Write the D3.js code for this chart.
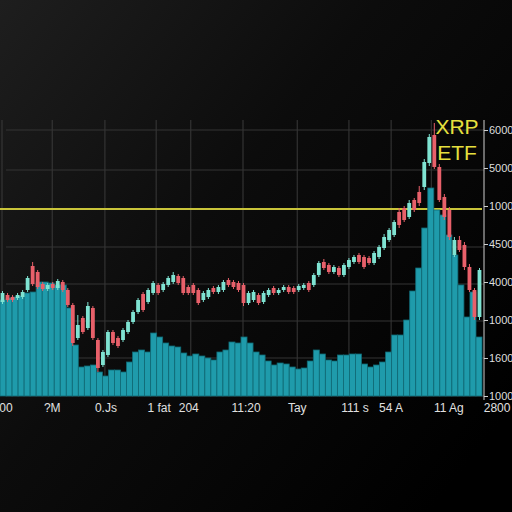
<!DOCTYPE html>
<html lang='en'>
<head>
<meta charset='utf-8'>
<title>XRP ETF</title>
<script src='https://cdn.jsdelivr.net/npm/d3@7'></script>
<style>
  html, body { margin: 0; padding: 0; background: #000; }
  svg { display: block; }
</style>
</head>
<body>
<script>
// candle data (price units), one candle per period
var opens  = [94,101,99,98,99,106,130,124,112,107,112,108,114,106,91,58,78,68,88,56,31,41,64,58,56,64,74,84,102,94,
              103,111,106,111,114,120,118,109,111,106,96,99,108,104,106,116,114,113,111,93,96,101,94,101,108,103,106,109,108,106,
              108,113,111,121,134,131,124,128,121,129,134,141,139,138,133,139,148,156,161,184,188,179,196,204,209,233,261,229,199,186,
              141,156,151,129,106,79];
var closes = [103,96,96,101,104,118,112,109,107,111,108,115,106,91,53,71,64,90,58,28,44,64,53,50,66,74,84,96,86,106,
              113,103,112,118,121,113,103,103,103,93,103,106,104,109,114,111,109,106,93,103,104,93,103,106,103,106,109,104,104,110,
              111,106,121,133,128,124,129,121,131,136,139,134,129,133,143,149,159,166,174,171,176,193,186,193,234,259,229,196,179,159,
              156,146,129,106,79,126];
var highs  = [105,103,101,103,106,120,134,126,114,113,114,117,116,108,93,81,80,94,90,58,46,66,66,60,68,76,86,98,104,108,
              115,113,114,120,124,122,120,111,113,108,105,108,110,111,116,118,116,115,113,105,106,103,105,108,110,108,111,111,110,112,
              113,115,123,135,137,133,131,130,133,138,141,143,141,140,145,151,162,168,176,188,190,196,198,210,237,262,273,232,202,189,
              159,160,154,132,108,128];
var lows   = [92,94,94,96,97,104,110,107,105,105,106,106,104,89,50,56,62,66,56,24,29,39,51,48,54,62,72,82,84,92,
              101,101,104,109,112,111,101,101,101,91,94,97,102,102,104,109,107,104,90,91,94,91,92,99,101,101,104,102,102,104,
              106,104,109,119,126,122,122,119,119,127,132,132,127,131,131,137,146,154,159,168,174,177,184,190,206,230,227,194,176,156,
              139,144,126,104,76,76];

// volume bars
var volumes = [96,98,99,100,103,104,114,114,113,111,111,88,51,29,30,31,24,20,26,26,
               24,34,44,46,44,63,59,53,50,49,43,40,42,40,38,36,44,46,54,53,
               59,53,44,41,35,31,33,32,29,27,28,35,46,42,36,35,41,41,42,42,
               32,29,31,34,44,61,61,76,105,128,168,208,186,181,161,141,111,79,104,59];

// axis labels
var xTickLabels = ['00','?M','0.Js','1 fat','204','11:20','Tay','111 s','54 A','11 Ag','2800'];
var xTickAt     = [1.2, 10.4, 21.1, 31.7, 37.6, 49, 59.2, 70.7, 77.9, 89.4, 99];
var gridAt      = [0.4, 10.4, 20.9, 31.1, 38, 48.4, 59.2, 69.5, 77.9, 85.9];
var yTickLabels = ['6000','5000','1000','4500','4000','1000','1600','1000'];
var yGridAt     = [266, 226, 187, 149, 112, 75, 38, 0];
var etfLevel    = 187;
var title       = ['XRP', 'ETF'];

{
  var W = 512, H = 512;
  var plotL = 0, plotR = 482, plotT = 120, plotB = 396;

  var svg = d3.select('body').append('svg').attr('width', W).attr('height', H);

  var defs = svg.append('defs');
  var grad = defs.append('linearGradient').attr('id', 'bg')
    .attr('x1', 0).attr('y1', 0).attr('x2', 1).attr('y2', 0.8);
  grad.append('stop').attr('offset', '0%').attr('stop-color', '#1e1e1e');
  grad.append('stop').attr('offset', '45%').attr('stop-color', '#0c0c0c');
  grad.append('stop').attr('offset', '100%').attr('stop-color', '#000');
  svg.append('rect').attr('width', W).attr('height', H).attr('fill', 'url(#bg)');

  var x = d3.scaleLinear().domain([0, opens.length]).range([plotL, plotR]);
  var y = d3.scaleLinear().domain([0, 276]).range([plotB, plotT]);
  var xb = d3.scaleBand().domain(d3.range(volumes.length)).range([plotL, plotR]).padding(0);
  var yv = d3.scaleLinear().domain([0, 276]).range([plotB, plotT]);

  // grid
  svg.append('g').selectAll('line').data(gridAt).enter().append('line')
    .attr('x1', d => x(d)).attr('x2', d => x(d))
    .attr('y1', plotT).attr('y2', plotB)
    .attr('stroke', '#3a3a3a').attr('stroke-width', 1);
  svg.append('g').selectAll('line').data(yGridAt.filter(d => d !== etfLevel)).enter().append('line')
    .attr('x1', 6).attr('x2', plotR + 2)
    .attr('y1', d => y(d)).attr('y2', d => y(d))
    .attr('stroke', '#343434').attr('stroke-width', 1);

  // ETF level line
  svg.append('line')
    .attr('x1', plotL).attr('x2', plotR)
    .attr('y1', y(etfLevel)).attr('y2', y(etfLevel))
    .attr('stroke', '#c9c43a').attr('stroke-width', 2);

  // volume
  svg.append('g').selectAll('rect').data(volumes).enter().append('rect')
    .attr('x', (d, i) => xb(i))
    .attr('y', d => yv(d))
    .attr('width', xb.bandwidth())
    .attr('height', d => plotB - yv(d))
    .attr('fill', '#1f9bab')
    .attr('stroke', '#116a76').attr('stroke-width', 0.8);

  // candles
  var cw = x(1) - x(0);
  var candles = svg.append('g').selectAll('g').data(opens).enter().append('g');
  var col = (d, i) => closes[i] >= opens[i] ? '#7fe3d2' : '#e8606a';
  candles.append('line')
    .attr('x1', (d, i) => x(i + 0.5)).attr('x2', (d, i) => x(i + 0.5))
    .attr('y1', (d, i) => y(highs[i])).attr('y2', (d, i) => y(lows[i]))
    .attr('stroke', col).attr('stroke-width', 1);
  candles.append('rect')
    .attr('x', (d, i) => x(i) + 0.6)
    .attr('width', cw - 1.2)
    .attr('y', (d, i) => y(Math.max(opens[i], closes[i])))
    .attr('height', (d, i) => Math.max(1.5, Math.abs(y(opens[i]) - y(closes[i]))))
    .attr('fill', col);

  // right axis
  var yAxisScale = d3.scalePoint().domain(d3.range(yTickLabels.length)).range([y(yGridAt[0]), y(0)]);
  var ax = svg.append('g').attr('transform', 'translate(484,0)')
    .call(d3.axisRight(yAxisScale).tickSize(4).tickFormat(i => yTickLabels[i]));
  ax.select('.domain').attr('stroke', '#cfcfcf').attr('d', 'M0,' + plotT + 'V' + (plotB + 4));
  ax.selectAll('.tick line').attr('stroke', '#cfcfcf');
  ax.selectAll('.tick text').attr('fill', '#dedede').attr('font-family', 'Liberation Sans, Arial, sans-serif')
    .attr('font-size', 11).attr('x', 5);

  // bottom labels
  svg.append('g').selectAll('text').data(xTickLabels).enter().append('text')
    .attr('x', (d, i) => x(xTickAt[i]))
    .attr('y', 412)
    .attr('text-anchor', 'middle')
    .attr('fill', '#e0e0e0')
    .attr('font-family', 'Liberation Sans, Arial, sans-serif')
    .attr('font-size', 12)
    .text(d => d);

  // title
  svg.append('g').selectAll('text').data(title).enter().append('text')
    .attr('x', 457).attr('y', (d, i) => 134 + i * 26)
    .attr('text-anchor', 'middle')
    .attr('fill', '#e6e03e')
    .attr('font-family', 'Liberation Sans, Arial, sans-serif')
    .attr('font-size', 21)
    .text(d => d);
}
</script>
</body>
</html>
